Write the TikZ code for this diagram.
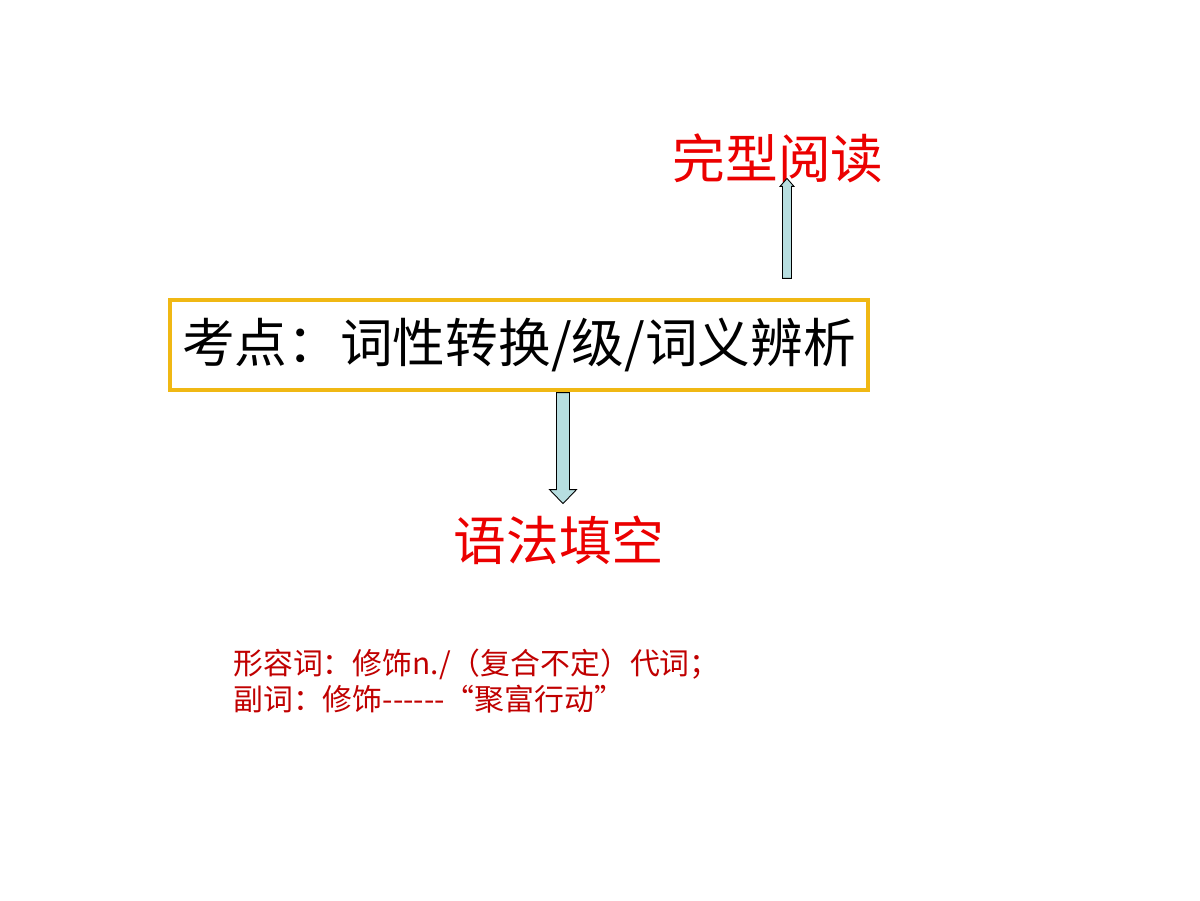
\documentclass[tikz,border=0pt]{standalone}
\usepackage{fontspec}
\usepackage{tikz}
\usetikzlibrary{calc}
\newfontfamily\cjk{Noto Sans CJK SC}
\definecolor{boxyellow}{RGB}{240,184,20}
\definecolor{arrowblue}{RGB}{183,222,224}
\definecolor{titlered}{RGB}{235,0,0}
\definecolor{notered}{RGB}{192,0,0}
\tikzset{
  kaodian/.style={draw=boxyellow,line width=1.8pt,minimum width=13.96cm,minimum height=1.8cm,inner sep=0pt,font=\cjk\fontsize{30}{34}\selectfont},
  tixing/.style={text=titlered,inner sep=0pt,font=\cjk\fontsize{30}{36}\selectfont},
  zhushi/.style={text=notered,inner sep=0pt,align=left,font=\cjk\fontsize{17}{21}\selectfont},
  blockarrow/.style={draw=black,fill=arrowblue,line width=0.5pt,line join=miter}
}
\begin{document}
\begin{tikzpicture}[x=0.02cm,y=-0.02cm]
\useasboundingbox (0,0) rectangle (1200,900);
\node[kaodian](kd)at(519,345){\raisebox{-3pt}{考点：词性转换/级/词义辨析}};
\node[tixing](wx)at(778,158){完型阅读};
\node[tixing](yf)at(559,540){语法填空};
\node[zhushi,anchor=west](bz)at(233,681){形容词：修饰n./（复合不定）代词；\\副词：修饰------“聚富行动”};
% up arrow to wx
\coordinate(ufoot)at($(kd.north)+(268,-20)$);
\coordinate(utip)at($(ufoot)+(0,-100)$);
\draw[blockarrow]($(ufoot)+(-4.5,0)$)--($(utip)+(-4.5,8)$)--($(utip)+(-7,8)$)--(utip)
  --($(utip)+(7,8)$)--($(utip)+(4.5,8)$)--($(ufoot)+(4.5,0)$)--cycle;
% down arrow to yf
\coordinate(dfoot)at($(kd.south)+(44,1)$);
\coordinate(dtip)at($(dfoot)+(0,111)$);
\draw[blockarrow]($(dfoot)+(-6.5,0)$)--($(dtip)+(-6.5,-14)$)--($(dtip)+(-13.5,-14)$)--(dtip)
  --($(dtip)+(13.5,-14)$)--($(dtip)+(6.5,-14)$)--($(dfoot)+(6.5,0)$)--cycle;
\end{tikzpicture}
\end{document}
